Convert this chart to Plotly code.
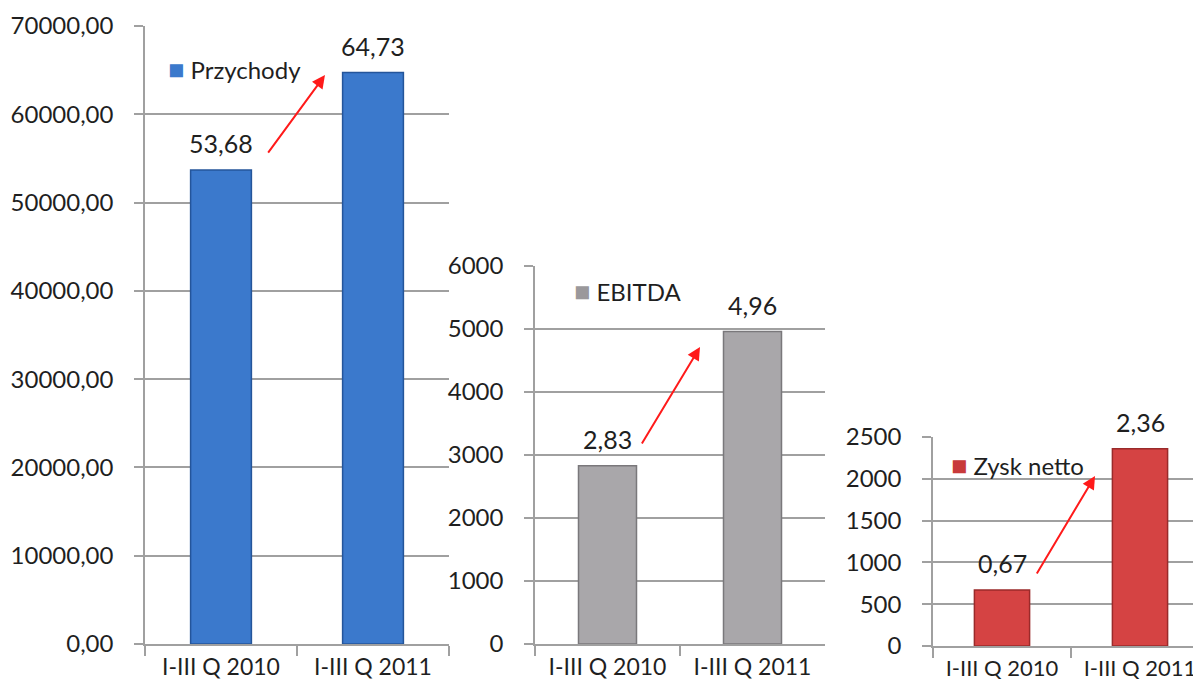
import plotly.graph_objects as go

categories = ["I-III Q 2010", "I-III Q 2011"]

przychody = [53680, 64730]
przychody_labels = ["53,68", "64,73"]
ebitda = [2830, 4960]
ebitda_labels = ["2,83", "4,96"]
zysk = [670, 2360]
zysk_labels = ["0,67", "2,36"]

series_names = ["Przychody", "EBITDA", "Zysk netto"]

W, H = 1201, 691
FONT = "Lato"
TXT = "#1f1f1f"
GRID = "#a0a0a0"
OX, OY = 8, 8  # page offset of the figure

def px_x(p):
    return min(1.0, (p - OX) / W)

def px_y(p):
    return 1 - (p - OY) / H

panels = [
    dict(vals=przychody, labels=przychody_labels, name=series_names[0],
         color="#3b79cc", edge="#24559a", sq="#3b79cc",
         xdom=[px_x(145), px_x(449)], ydom=[px_y(644), px_y(26)],
         yrange=[0, 70000], dtick=10000, fmt=".2f", xfont=23,
         legend=(166, 68), arrow=((0.303, 55490), (0.684, 64440))),
    dict(vals=ebitda, labels=ebitda_labels, name=series_names[1],
         color="#a9a7aa", edge="#7a787b", sq="#9a989b",
         xdom=[px_x(535), px_x(825)], ydom=[px_y(644), px_y(266)],
         yrange=[0, 6000], dtick=1000, fmt="d", xfont=23,
         legend=(572, 290), arrow=((0.231, 3159), (0.638, 4714))),
    dict(vals=zysk, labels=zysk_labels, name=series_names[2],
         color="#d54343", edge="#9a2a2a", sq="#c83a3a",
         xdom=[px_x(933), px_x(1209)], ydom=[px_y(646), px_y(437)],
         yrange=[0, 2500], dtick=500, fmt="d", xfont=22,
         legend=(949, 464), arrow=((0.246, 849), (0.674, 2033))),
]

fig = go.Figure()
annotations = []
layout = {}
for i, p in enumerate(panels, start=1):
    xa = "x" if i == 1 else f"x{i}"
    ya = "y" if i == 1 else f"y{i}"
    fig.add_trace(go.Bar(
        x=categories, y=p["vals"], name=p["name"],
        xaxis=xa, yaxis=ya, width=0.4,
        marker=dict(color=p["color"], line=dict(color=p["edge"], width=1.5)),
        showlegend=False, hoverinfo="skip",
    ))
    xkey = "xaxis" if i == 1 else f"xaxis{i}"
    ykey = "yaxis" if i == 1 else f"yaxis{i}"
    layout[xkey] = dict(
        domain=p["xdom"], anchor=ya, type="category", range=[-0.5, 1.5],
        showline=True, linecolor=GRID, linewidth=1.5,
        ticks="outside", tickson="boundaries", ticklen=10, tickcolor=GRID,
        tickwidth=1.5, showgrid=False, automargin=False,
        tickfont=dict(family=FONT, size=p["xfont"], color=TXT),
        ticklabelstandoff=2, ticklabeloverflow="allow",
    )
    layout[ykey] = dict(
        domain=p["ydom"], anchor=xa, range=p["yrange"], dtick=p["dtick"],
        tickformat=p["fmt"], showline=True, linecolor=GRID, linewidth=1.5,
        showgrid=True, gridcolor=GRID, gridwidth=1.5, automargin=False,
        ticks="outside", ticklen=9, tickcolor=GRID, tickwidth=1.5,
        zeroline=False, ticklabelstandoff=16, ticklabeloverflow="allow",
        tickfont=dict(family=FONT, size=24, color=TXT),
    )
    for c, v, lab in zip(categories, p["vals"], p["labels"]):
        annotations.append(dict(
            x=c, y=v, xref=xa, yref=ya, text=lab, showarrow=False,
            yanchor="bottom", yshift=10,
            font=dict(family=FONT, size=25, color=TXT),
        ))
    lx, ly = p["legend"]
    annotations.append(dict(
        x=px_x(lx), y=px_y(ly), xref="paper", yref="paper",
        xanchor="left", yanchor="middle", showarrow=False,
        text=f"<span style='color:{p['sq']};font-size:27px'>■</span> {p['name']}",
        font=dict(family=FONT, size=24, color=TXT),
    ))
    (x0, y0), (x1, y1) = p["arrow"]
    annotations.append(dict(
        x=x1, y=y1, ax=x0, ay=y0, xref=xa, yref=ya, axref=xa, ayref=ya,
        showarrow=True, arrowhead=2, arrowsize=1.3, arrowwidth=2,
        arrowcolor="#ff1a1a", text="",
    ))

fig.update_layout(
    width=W, height=H, margin=dict(l=0, r=0, t=0, b=0, autoexpand=False),
    paper_bgcolor="white", plot_bgcolor="white",
    separators=", ", annotations=annotations, bargap=0.6,
    **layout,
)

fig.write_html("out.html")
